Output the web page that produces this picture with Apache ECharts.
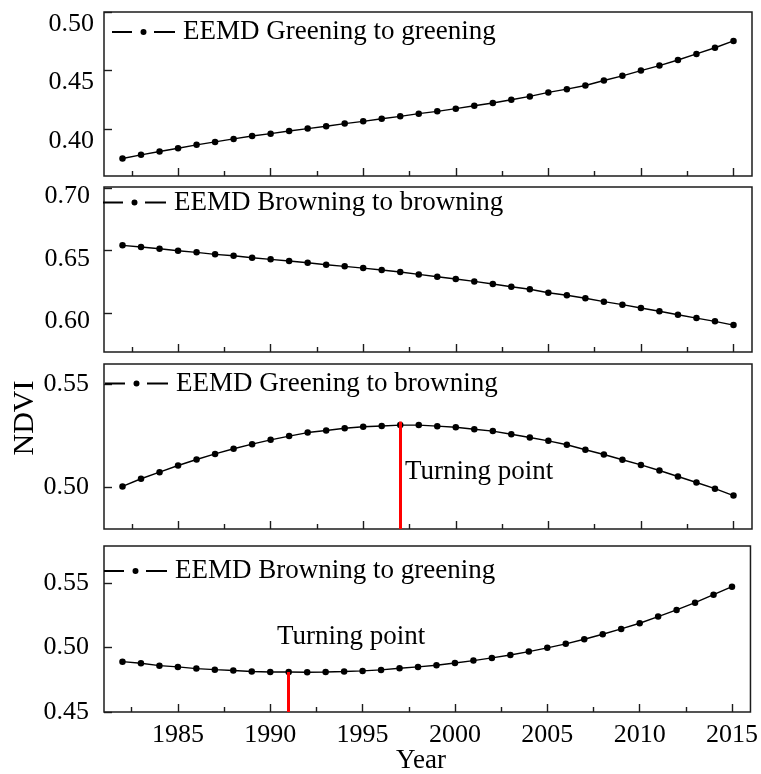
<!DOCTYPE html>
<html>
<head>
<meta charset="utf-8">
<script src="https://cdn.jsdelivr.net/npm/echarts@6/dist/echarts.min.js"></script>
<style>
  html, body { margin: 0; padding: 0; background: #fff; }
  #chart { width: 761px; height: 774px; }
</style>
</head>
<body>
<div id="chart"></div>
<script>
// ---- data -------------------------------------------------------------
const years = [1982, 1983, 1984, 1985, 1986, 1987, 1988, 1989, 1990, 1991,
               1992, 1993, 1994, 1995, 1996, 1997, 1998, 1999, 2000, 2001,
               2002, 2003, 2004, 2005, 2006, 2007, 2008, 2009, 2010, 2011,
               2012, 2013, 2014, 2015];

const greeningToGreening = [0.3746, 0.3777, 0.3806, 0.3834, 0.3863, 0.3888, 0.3914, 0.3939, 0.3959, 0.3982,
                            0.4002, 0.4022, 0.4045, 0.4064, 0.4087, 0.4107, 0.4130, 0.4150, 0.4173, 0.4198,
                            0.4221, 0.4249, 0.4278, 0.4312, 0.4340, 0.4371, 0.4414, 0.4454, 0.4499, 0.4542,
                            0.4590, 0.4642, 0.4695, 0.4753];

const browningToBrowning = [0.6543, 0.6530, 0.6516, 0.6500, 0.6487, 0.6471, 0.6460, 0.6444, 0.6431, 0.6418,
                            0.6404, 0.6388, 0.6375, 0.6361, 0.6346, 0.6330, 0.6311, 0.6292, 0.6274, 0.6255,
                            0.6234, 0.6212, 0.6192, 0.6164, 0.6144, 0.6120, 0.6093, 0.6069, 0.6042, 0.6016,
                            0.5989, 0.5962, 0.5936, 0.5906];

const greeningToBrowning = [0.5005, 0.5042, 0.5074, 0.5106, 0.5135, 0.5162, 0.5187, 0.5209, 0.5230, 0.5248,
                            0.5265, 0.5275, 0.5286, 0.5293, 0.5297, 0.5301, 0.5301, 0.5296, 0.5291, 0.5281,
                            0.5272, 0.5257, 0.5241, 0.5225, 0.5206, 0.5182, 0.5159, 0.5134, 0.5109, 0.5082,
                            0.5053, 0.5024, 0.4994, 0.4961];

const browningToGreening = [0.4891, 0.4879, 0.4860, 0.4850, 0.4837, 0.4829, 0.4822, 0.4814, 0.4811, 0.4811,
                            0.4809, 0.4811, 0.4814, 0.4819, 0.4827, 0.4840, 0.4850, 0.4863, 0.4881, 0.4899,
                            0.4920, 0.4943, 0.4969, 0.4998, 0.5029, 0.5065, 0.5104, 0.5145, 0.5189, 0.5241,
                            0.5293, 0.5349, 0.5411, 0.5473];

const seriesNames = ['EEMD Greening to greening', 'EEMD Browning to browning',
                     'EEMD Greening to browning', 'EEMD Browning to greening'];
const seriesValues = [greeningToGreening, browningToBrowning, greeningToBrowning, browningToGreening];

// x axis ticks
const yearLabels = [1985, 1990, 1995, 2000, 2005, 2010, 2015];
const halfYearTicks = [1982.5, 1987.5, 1992.5, 1997.5, 2002.5, 2007.5, 2012.5];

// y axis ticks per panel
const yTickLabels = [
  [0.40, 0.45, 0.50],
  [0.60, 0.65, 0.70],
  [0.50, 0.55],
  [0.45, 0.50, 0.55]
];
const yRanges = [
  [0.3596, 0.5001],
  [0.5691, 0.7009],
  [0.47995, 0.5596],
  [0.45, 0.5789]
];

// turning points: [panel, year, height of the marker]
const turningPoints = [
  [2, 1997, 0.5318],
  [3, 1991, 0.4811]
];

// ---- layout -----------------------------------------------------------
const FONT = 'Liberation Serif';
const INK = '#1c1c1c';
const gridLeft = 104, gridRight = 9;
const gridTops = [12, 187, 364, 546];
const gridHeights = [164, 165, 165, 166];
const labelMargins = [10, 14, 15, 15];
const labelLineHeights = [24, 16, null, null];
const legendLefts = [112, 103, 105, 104];
const legendCentres = [32, 202.5, 383.5, 571];

// legend glyph: dash, dot, dash
const legendIcon = 'path://M0 3H20V5H0Z M28.5 4A3 3 0 1 0 34.5 4A3 3 0 1 0 28.5 4Z M42 3H63V5H42Z';

const grids = [], xAxes = [], yAxes = [], series = [], legends = [];

seriesValues.forEach(function (vals, i) {
  grids.push({
    left: gridLeft, right: gridRight, top: gridTops[i], height: gridHeights[i],
    show: true, borderColor: INK, borderWidth: 1.5, backgroundColor: 'transparent'
  });

  // major year ticks (labels on the bottom panel only)
  xAxes.push({
    type: 'value', gridIndex: i, position: 'bottom', min: 1981, max: 2016,
    axisLine: { show: false }, splitLine: { show: false },
    axisTick: { show: true, inside: true, length: 8, customValues: yearLabels,
                lineStyle: { color: INK, width: 1.4 } },
    axisLabel: { show: i === 3, customValues: yearLabels, margin: 10,
                 fontFamily: FONT, fontSize: 26, color: '#000',
                 formatter: function (v) { return String(v); } }
  });
  // half-way ticks between the labelled years
  xAxes.push({
    type: 'value', gridIndex: i, position: 'bottom', min: 1981, max: 2016,
    axisLine: { show: false }, splitLine: { show: false },
    axisTick: { show: true, inside: true, length: 5, customValues: halfYearTicks,
                lineStyle: { color: INK, width: 1.4 } },
    axisLabel: { show: false }
  });

  const lbl = { customValues: yTickLabels[i], margin: labelMargins[i],
                fontFamily: FONT, fontSize: 26, color: '#000',
                formatter: function (v) { return v.toFixed(2); } };
  if (labelLineHeights[i]) {
    lbl.verticalAlign = 'top';
    lbl.lineHeight = labelLineHeights[i];
  }
  yAxes.push({
    type: 'value', gridIndex: i, min: yRanges[i][0], max: yRanges[i][1],
    axisLine: { show: false }, splitLine: { show: false },
    axisTick: { show: true, inside: true, length: 8, customValues: yTickLabels[i],
                lineStyle: { color: INK, width: 1.4 } },
    axisLabel: lbl
  });

  const s = {
    name: seriesNames[i], type: 'line',
    xAxisIndex: i * 2, yAxisIndex: i,
    data: years.map(function (y, k) { return [y, vals[k]]; }),
    symbol: 'circle', symbolSize: 6.5, showSymbol: true,
    lineStyle: { color: '#000', width: 1.4 },
    itemStyle: { color: '#000' },
    animation: false, z: 3
  };
  turningPoints.forEach(function (tp) {
    if (tp[0] === i) {
      s.markLine = {
        silent: true, symbol: 'none', animation: false,
        label: { show: false },
        lineStyle: { color: '#ff0000', width: 3, type: 'solid' },
        data: [[{ coord: [tp[1], yRanges[i][0]] }, { coord: [tp[1], tp[2]] }]]
      };
    }
  });
  series.push(s);

  legends.push({
    data: [seriesNames[i]],
    left: legendLefts[i], top: legendCentres[i] - 14,
    padding: 0, itemWidth: 63, itemHeight: 8,
    icon: legendIcon, selectedMode: false,
    itemStyle: { color: '#000', borderWidth: 0 },
    textStyle: { fontFamily: FONT, fontSize: 27, color: '#000', lineHeight: 28,
                 padding: [0, 0, 0, 3] }
  });
});

const textStyle = { fontFamily: FONT, fill: '#000' };
const chart = echarts.init(document.getElementById('chart'), null, { renderer: 'canvas' });
chart.setOption({
  backgroundColor: '#fff',
  animation: false,
  grid: grids,
  xAxis: xAxes,
  yAxis: yAxes,
  legend: legends,
  series: series,
  graphic: [
    { type: 'text', left: 405, top: 458,
      style: Object.assign({ text: 'Turning point', fontSize: 27 }, textStyle) },
    { type: 'text', left: 277, top: 623,
      style: Object.assign({ text: 'Turning point', fontSize: 27 }, textStyle) },
    { type: 'text', x: 421, y: 761, style: Object.assign({ text: 'Year', fontSize: 27,
      align: 'center', verticalAlign: 'middle' }, textStyle) },
    { type: 'text', x: 25, y: 418, rotation: Math.PI / 2,
      style: Object.assign({ text: 'NDVI', fontSize: 30,
      align: 'center', verticalAlign: 'middle' }, textStyle) }
  ]
});
</script>
</body>
</html>
